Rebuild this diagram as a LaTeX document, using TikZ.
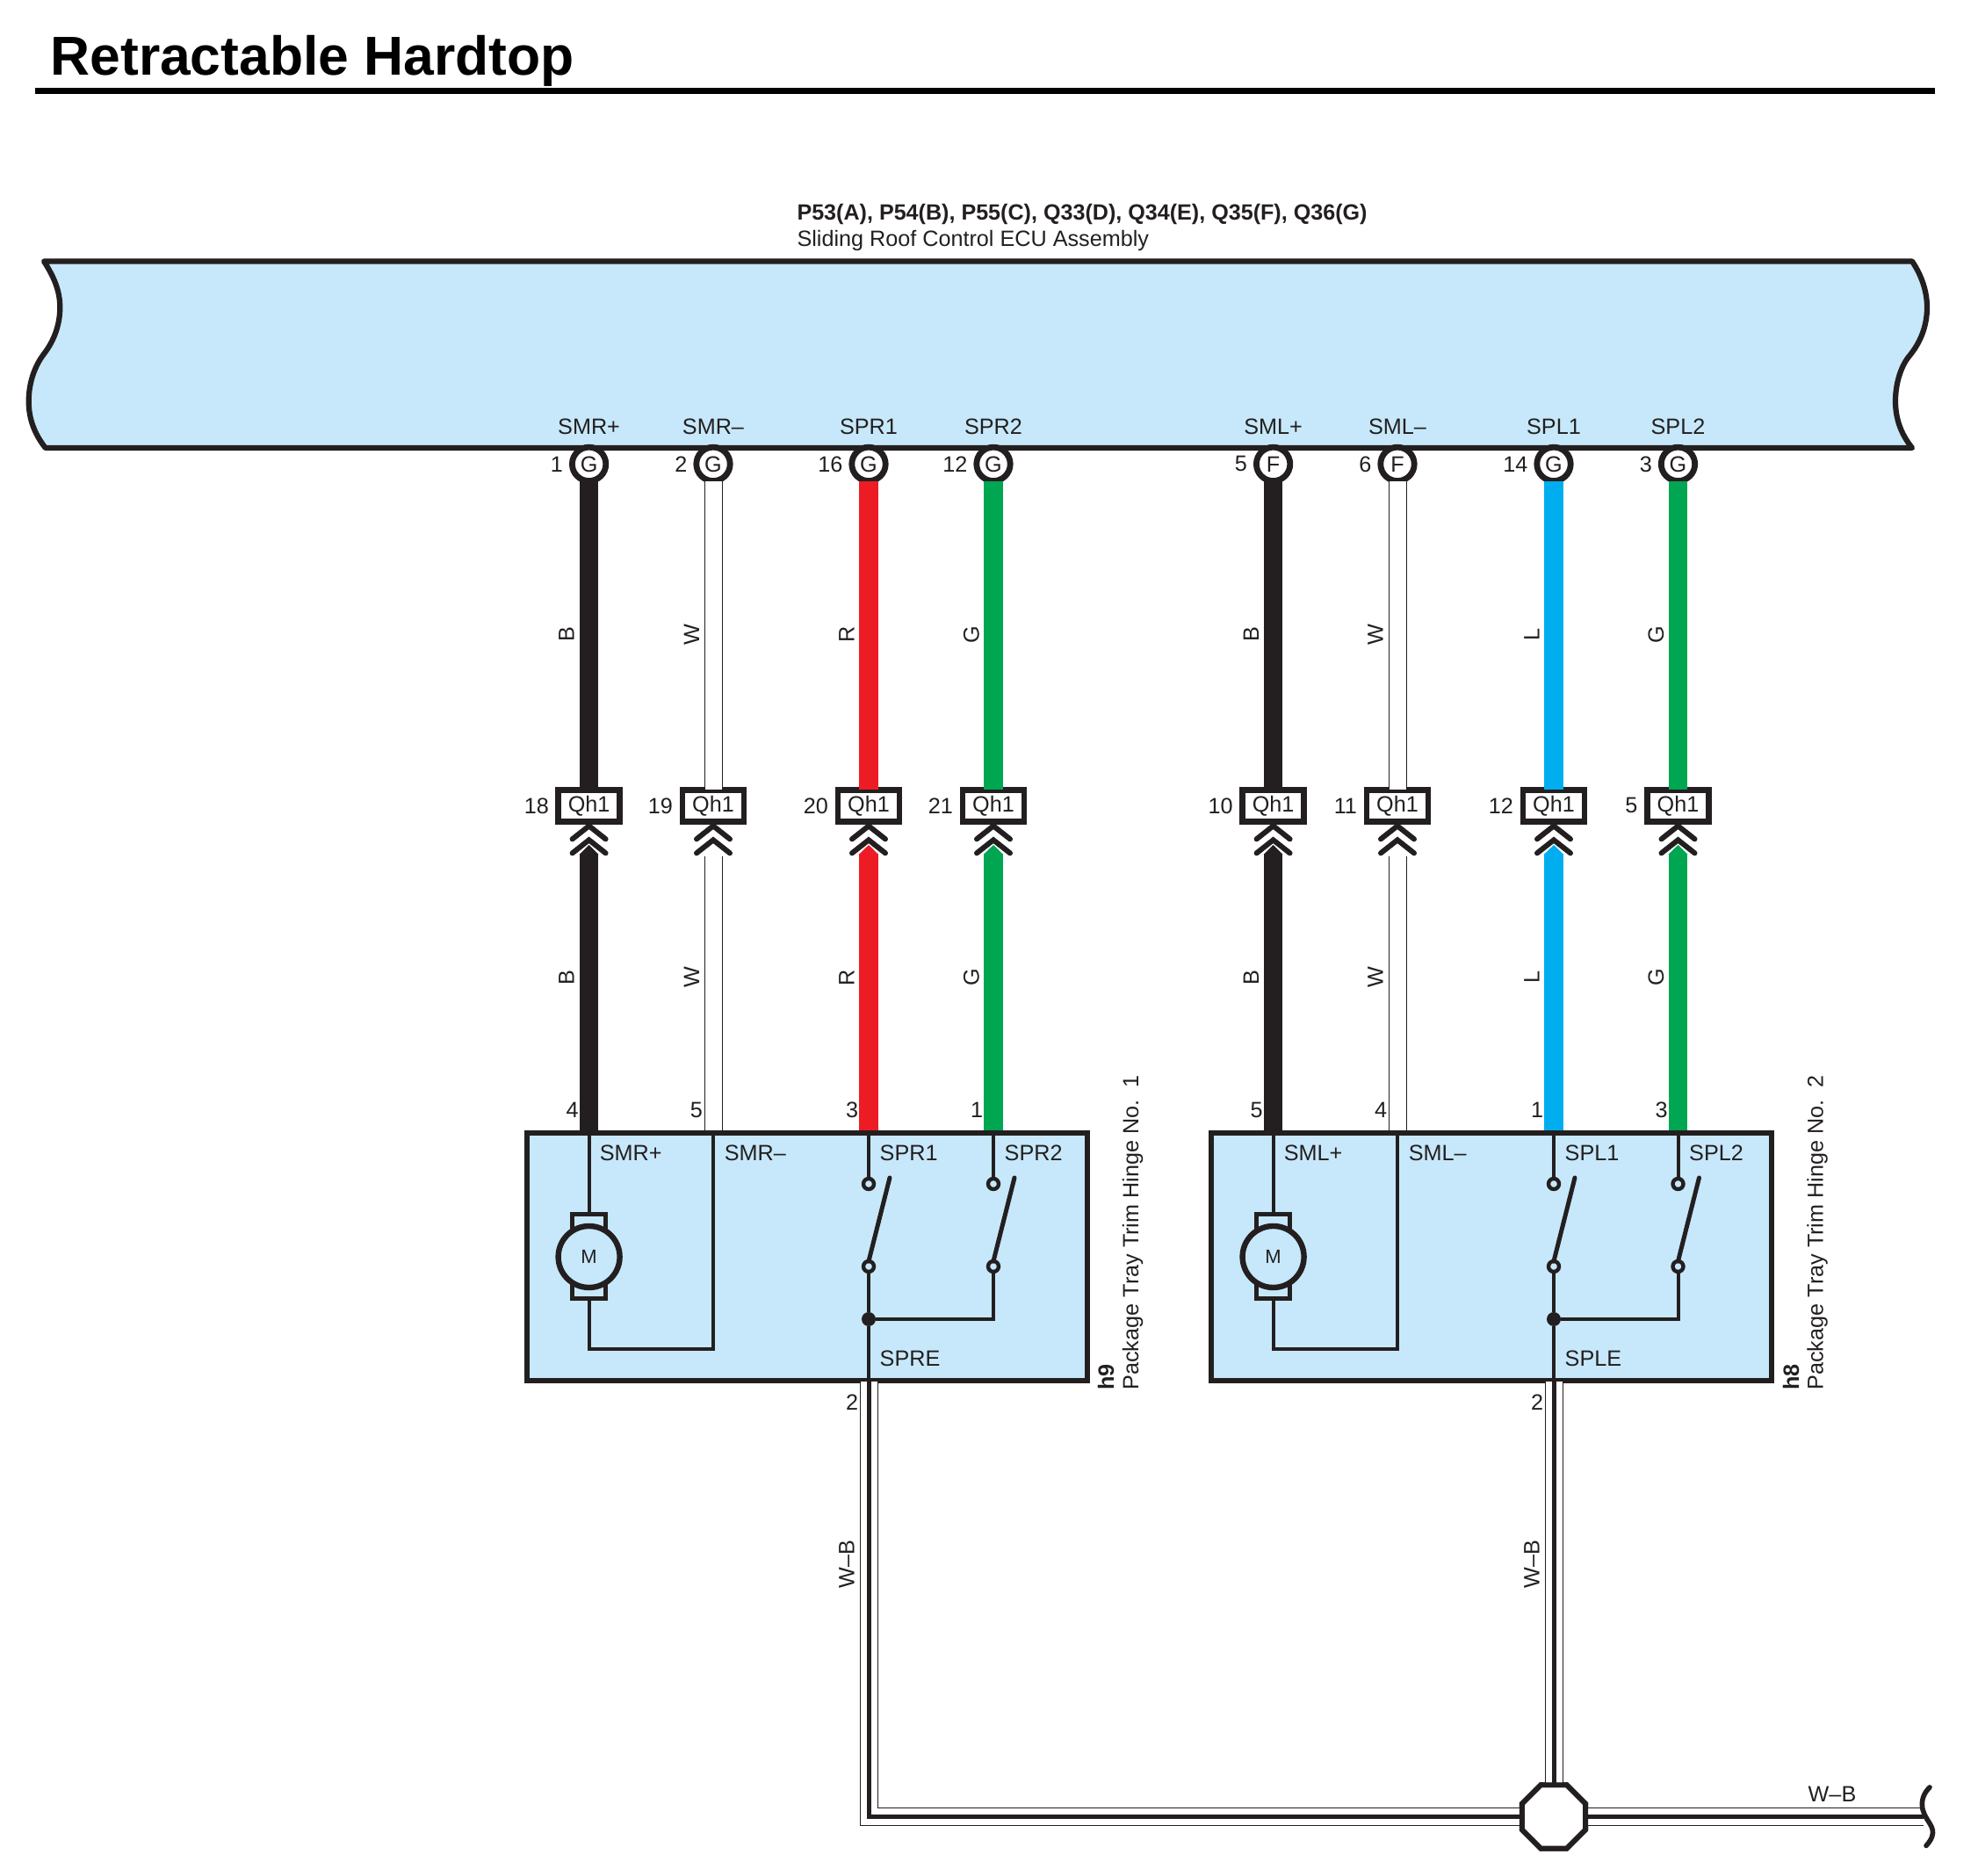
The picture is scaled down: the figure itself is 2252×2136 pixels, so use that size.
\documentclass[tikz,border=0pt]{standalone}
\usepackage{fontspec}
\setmainfont{Liberation Sans}
\usetikzlibrary{arrows.meta,shapes.geometric}
\definecolor{cblk}{HTML}{231F20}
\definecolor{cred}{HTML}{ED1C24}
\definecolor{cgrn}{HTML}{00A651}
\definecolor{cblu}{HTML}{00AEEF}
\definecolor{cbody}{HTML}{C7E8FA}
\tikzset{
every node/.style={inner sep=0pt,outer sep=0pt,text=cblk,font=\fontsize{6.3}{7}\selectfont},
numlab/.style={anchor=east},
wirelab/.style={rotate=90},
sidelab/.style={rotate=90,anchor=west},
inlab/.style={anchor=west},
pinc/.style={circle,draw=cblk,fill=white,line width=1.7pt,minimum size=9.6pt},
connbox/.style={rectangle,draw=cblk,fill=white,line width=1.6pt,minimum width=17.5pt,minimum height=9pt},
partbox/.style={rectangle,draw=cblk,fill=cbody,line width=1.5pt,minimum width=159.5pt,minimum height=70.6pt},
wirefat/.style={line width=5.375pt},
tipped/.style={{Triangle[width=5.375pt,length=2.75pt]}-},
wirethin/.style={draw=cblk,line width=.25pt,double=white,double distance=4.75pt},
wirein/.style={draw=cblk,line width=1pt},
wirecore/.style={draw=cblk,line width=1.25pt},
contact/.style={circle,draw=cblk,fill=cbody,line width=1.1pt,minimum size=3pt},
blade/.style={draw=cblk,line width=1.25pt,line cap=round},
dot/.style={circle,fill=cblk,minimum size=4pt},
motorcap/.style={rectangle,draw=cblk,fill=cbody,line width=1.25pt,minimum width=9.5pt,minimum height=24pt},
motorc/.style={circle,draw=cblk,fill=cbody,line width=1.6pt,minimum size=17.5pt,font=\fontsize{5.5}{6}\selectfont},
chevrons/.pic={
\draw[draw=cblk,line width=1.5pt,line cap=round,miter limit=10](-19,20)--(0,5)--(19,20);
\draw[draw=cblk,line width=1.5pt,line cap=round,miter limit=10](-19,36)--(0,21)--(19,36);
}
}
\begin{document}
\begin{tikzpicture}[x=.25pt,y=-.25pt]
\useasboundingbox (0,0) rectangle (2252,2136);
\node[anchor=base west,font=\fontsize{15.6}{18}\bfseries\selectfont,text=black] (title) at (57.5,86) {Retractable Hardtop};
\draw[line width=1.75pt,color=black](40,103.5)--(2203,103.5);
\node[anchor=west,font=\fontsize{6.28}{7}\bfseries\selectfont] (ecuno) at (907.5,244.5) {P53(A), P54(B), P55(C), Q33(D), Q34(E), Q35(F), Q36(G)};
\node[anchor=west] (ecuname) at (907.5,274.5) {Sliding Roof Control ECU Assembly};
\draw[draw=cblk,fill=cbody,line width=1.55pt,line join=round](50,297.5)--(2177,297.5)
 .. controls (2188,314) and (2194,332) .. (2194,350)
 .. controls (2194,372) and (2186,391) .. (2172.7,406.7)
 .. controls (2164,418) and (2158,437) .. (2158,456.7)
 .. controls (2158,478) and (2165,495) .. (2177,510)
 --(51.7,510)
 .. controls (40,495) and (32.7,478) .. (32.7,457)
 .. controls (32.7,435) and (40,416) .. (50,403)
 .. controls (60,390) and (68.3,372) .. (68.3,350)
 .. controls (68.3,332) and (62,316) .. (50,297.5)--cycle;

\node (sig1) at (670.6,486) {SMR+};
\node (sig2) at (812,486) {SMR--};
\node (sig3) at (989,486) {SPR1};
\node (sig4) at (1131,486) {SPR2};
\node (sig5) at (1449.6,486) {SML+};
\node (sig6) at (1591,486) {SML--};
\node (sig7) at (1769,486) {SPL1};
\node (sig8) at (1910.5,486) {SPL2};

\node[pinc] (pin1) at (670.6,528.4) {G};
\node[pinc] (pin2) at (812,528.4) {G};
\node[pinc] (pin3) at (989,528.4) {G};
\node[pinc] (pin4) at (1131,528.4) {G};
\node[pinc] (pin5) at (1449.6,528.4) {F};
\node[pinc] (pin6) at (1591,528.4) {F};
\node[pinc] (pin7) at (1769,528.4) {G};
\node[pinc] (pin8) at (1910.5,528.4) {G};

\node[numlab] (pno1) at (641,528.4) {1};
\node[numlab] (pno2) at (782.5,528.4) {2};
\node[numlab] (pno3) at (959.5,528.4) {16};
\node[numlab] (pno4) at (1101.5,528.4) {12};
\node[numlab] (pno5) at (1420,528.4) {5};
\node[numlab] (pno6) at (1561.5,528.4) {6};
\node[numlab] (pno7) at (1739.5,528.4) {14};
\node[numlab] (pno8) at (1881,528.4) {3};

\node[connbox] (conn1) at (670.6,917.4) {Qh1};
\node[connbox] (conn2) at (812,917.4) {Qh1};
\node[connbox] (conn3) at (989,917.4) {Qh1};
\node[connbox] (conn4) at (1131,917.4) {Qh1};
\node[connbox] (conn5) at (1449.6,917.4) {Qh1};
\node[connbox] (conn6) at (1591,917.4) {Qh1};
\node[connbox] (conn7) at (1769,917.4) {Qh1};
\node[connbox] (conn8) at (1910.5,917.4) {Qh1};

\node[numlab] (cno1) at (625,917.4) {18};
\node[numlab] (cno2) at (766,917.4) {19};
\node[numlab] (cno3) at (943,917.4) {20};
\node[numlab] (cno4) at (1085,917.4) {21};
\node[numlab] (cno5) at (1403.6,917.4) {10};
\node[numlab] (cno6) at (1545,917.4) {11};
\node[numlab] (cno7) at (1723,917.4) {12};
\node[numlab] (cno8) at (1864.5,917.4) {5};

\node[partbox] (h9) at (919,1430.8) {};
\node[partbox] (h8) at (1698,1430.8) {};

\coordinate (tip1) at (670.6,962);
\coordinate (tip2) at (812,975);
\coordinate (tip3) at (989,962);
\coordinate (tip4) at (1131,962);
\coordinate (tip5) at (1449.6,962);
\coordinate (tip6) at (1591,975);
\coordinate (tip7) at (1769,962);
\coordinate (tip8) at (1910.5,962);

\draw[wirefat,color=cblk](pin1.south)--(conn1.north);
\draw[wirethin](pin2.south)--(conn2.north);
\draw[wirefat,color=cred](pin3.south)--(conn3.north);
\draw[wirefat,color=cgrn](pin4.south)--(conn4.north);
\draw[wirefat,color=cblk](pin5.south)--(conn5.north);
\draw[wirethin](pin6.south)--(conn6.north);
\draw[wirefat,color=cblu](pin7.south)--(conn7.north);
\draw[wirefat,color=cgrn](pin8.south)--(conn8.north);

\draw[wirefat,tipped,color=cblk,shorten >=.75pt](tip1)--(tip1|-h9.north);
\draw[wirethin,shorten >=.75pt](tip2)--(tip2|-h9.north);
\draw[wirefat,tipped,color=cred,shorten >=.75pt](tip3)--(tip3|-h9.north);
\draw[wirefat,tipped,color=cgrn,shorten >=.75pt](tip4)--(tip4|-h9.north);
\draw[wirefat,tipped,color=cblk,shorten >=.75pt](tip5)--(tip5|-h8.north);
\draw[wirethin,shorten >=.75pt](tip6)--(tip6|-h8.north);
\draw[wirefat,tipped,color=cblu,shorten >=.75pt](tip7)--(tip7|-h8.north);
\draw[wirefat,tipped,color=cgrn,shorten >=.75pt](tip8)--(tip8|-h8.north);

\pic at (conn1.south) {chevrons};
\pic at (conn2.south) {chevrons};
\pic at (conn3.south) {chevrons};
\pic at (conn4.south) {chevrons};
\pic at (conn5.south) {chevrons};
\pic at (conn6.south) {chevrons};
\pic at (conn7.south) {chevrons};
\pic at (conn8.south) {chevrons};

\node[wirelab] (up1) at (645,722.4) {B};
\node[wirelab] (up2) at (787.5,722.4) {W};
\node[wirelab] (up3) at (964,722.4) {R};
\node[wirelab] (up4) at (1106,722.4) {G};
\node[wirelab] (up5) at (1424.5,722.4) {B};
\node[wirelab] (up6) at (1566,722.4) {W};
\node[wirelab] (up7) at (1744,722.4) {L};
\node[wirelab] (up8) at (1885.5,722.4) {G};

\node[wirelab] (lo1) at (645,1113) {B};
\node[wirelab] (lo2) at (787.5,1113) {W};
\node[wirelab] (lo3) at (964,1113) {R};
\node[wirelab] (lo4) at (1106,1113) {G};
\node[wirelab] (lo5) at (1424.5,1113) {B};
\node[wirelab] (lo6) at (1566,1113) {W};
\node[wirelab] (lo7) at (1744,1113) {L};
\node[wirelab] (lo8) at (1885.5,1113) {G};

\node (bno1) at (651.7,1264) {4};
\node (bno2) at (793,1264) {5};
\node (bno3) at (970,1264) {3};
\node (bno4) at (1112,1264) {1};
\node (bno5) at (1430.6,1264) {5};
\node (bno6) at (1572,1264) {4};
\node (bno7) at (1750,1264) {1};
\node (bno8) at (1891.5,1264) {3};

\node[sidelab,font=\fontsize{6.3}{7}\bfseries\selectfont] (h9no) at (1259,1582.5) {h9};
\node[sidelab] (h9name) at (1289.5,1582.5) {Package Tray Trim Hinge No.\ \ 1};
\node[sidelab,font=\fontsize{6.3}{7}\bfseries\selectfont] (h8no) at (2039,1582.5) {h8};
\node[sidelab] (h8name) at (2069,1582.5) {Package Tray Trim Hinge No.\ \ 2};

\node[inlab] (in1) at (682.8,1313) {SMR+};
\node[inlab] (in2) at (824.8,1313) {SMR--};
\node[inlab] (in3) at (1001.7,1313) {SPR1};
\node[inlab] (in4) at (1143.7,1313) {SPR2};
\node[inlab] (in5) at (1461.8,1313) {SML+};
\node[inlab] (in6) at (1603.8,1313) {SML--};
\node[inlab] (in7) at (1781.7,1313) {SPL1};
\node[inlab] (in8) at (1923.2,1313) {SPL2};
\node[inlab] (spre) at (1001.7,1546.7) {SPRE};
\node[inlab] (sple) at (1781.7,1546.7) {SPLE};

\node[motorcap] (capr) at (670.6,1431) {};
\node[motorc] (motr) at (670.6,1431) {M};
\node[motorcap] (capl) at (1449.6,1431) {};
\node[motorc] (motl) at (1449.6,1431) {M};
\coordinate (backr) at (812,1536);
\coordinate (backl) at (1591,1536);
\draw[wirein](capr.north)--(capr.north|-h9.north);
\draw[wirein](capr.south)|-(backr)--(backr|-h9.north);
\draw[wirein](capl.north)--(capl.north|-h8.north);
\draw[wirein](capl.south)|-(backl)--(backl|-h8.north);

\node[contact] (s1a) at (989,1348) {};
\node[contact] (s1b) at (989,1442) {};
\node[contact] (s2a) at (1131,1348) {};
\node[contact] (s2b) at (1131,1442) {};
\node[contact] (s3a) at (1769,1348) {};
\node[contact] (s3b) at (1769,1442) {};
\node[contact] (s4a) at (1910.5,1348) {};
\node[contact] (s4b) at (1910.5,1442) {};
\node[dot] (jr) at (989,1502) {};
\node[dot] (jl) at (1769,1502) {};

\coordinate (b1) at (1013,1341);
\coordinate (b2) at (1155,1341);
\coordinate (b3) at (1793,1341);
\coordinate (b4) at (1934.5,1341);
\draw[blade](s1b.north)--(b1);
\draw[blade](s2b.north)--(b2);
\draw[blade](s3b.north)--(b3);
\draw[blade](s4b.north)--(b4);

\draw[wirein](s1a.north)--(s1a.north|-h9.north);
\draw[wirein](s2a.north)--(s2a.north|-h9.north);
\draw[wirein](s3a.north)--(s3a.north|-h8.north);
\draw[wirein](s4a.north)--(s4a.north|-h8.north);
\draw[wirein](s1b.south)--(jr.north);
\draw[wirein](s3b.south)--(jl.north);
\draw[wirein](jr.east)-|(s2b.south);
\draw[wirein](jl.east)-|(s4b.south);
\draw[wirein](jr.south)--(jr.south|-h9.south);
\draw[wirein](jl.south)--(jl.south|-h8.south);

\node (bno9) at (970,1597) {2};
\node (bno10) at (1750,1597) {2};
\node[wirelab] (wb1) at (964,1781) {W--B};
\node[wirelab] (wb2) at (1744,1781) {W--B};
\node (wb3) at (2086,2043) {W--B};

\coordinate (gndr) at (989,1573);
\coordinate (gndl) at (1769,1573);
\coordinate (gnde) at (2190,2068.5);
\node[regular polygon,regular polygon sides=8,minimum size=19.5pt,draw=cblk,fill=white,line width=1.5pt] (gnd) at (1769,2068.5) {};
\draw[wirethin](gndr)|-(gnd.center);
\draw[wirecore](gndr)|-(gnd.center);
\draw[wirethin](gndl)--(gnd.center);
\draw[wirecore](gndl)--(gnd.center);
\draw[wirethin](gnd.center)--(gnde);
\draw[wirecore](gnd.center)--(gnde);
\node[regular polygon,regular polygon sides=8,minimum size=19.5pt,draw=cblk,fill=white,line width=1.5pt] (gndtop) at (gnd.center) {};
\draw[draw=cblk,line width=1.4pt,line cap=round](2197,2035) .. controls (2190,2042) and (2187,2050) .. (2189,2060) .. controls (2192,2072) and (2201,2078) .. (2200.5,2087) .. controls (2200,2093) and (2197,2097) .. (2193,2101.5);
\end{tikzpicture}
\end{document}
